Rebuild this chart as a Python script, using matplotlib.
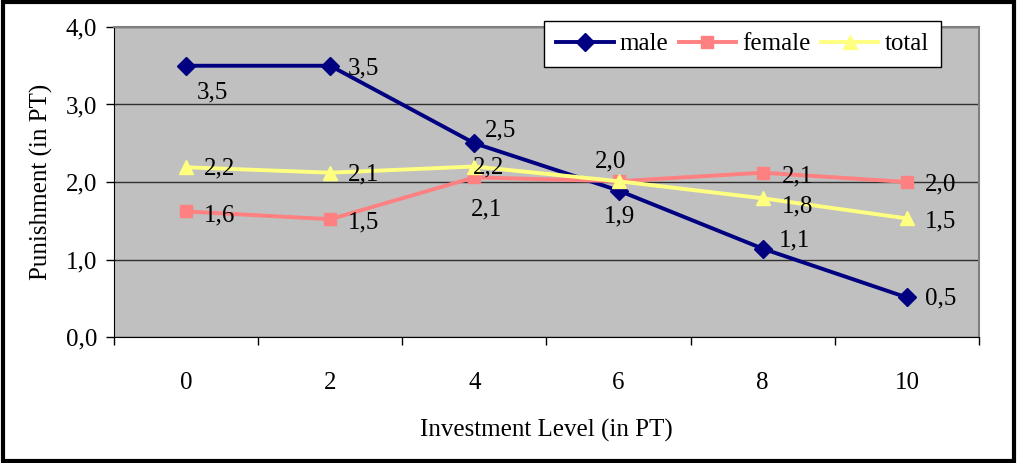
import matplotlib
matplotlib.use("Agg")
import matplotlib.pyplot as plt
from matplotlib.lines import Line2D

# investment levels and mean punishment per group
levels = ['0', '2', '4', '6', '8', '10']
male = [3.50, 3.50, 2.50, 1.89, 1.14, 0.51]
female = [1.62, 1.52, 2.06, 2.01, 2.12, 2.00]
total = [2.19, 2.12, 2.20, 2.01, 1.79, 1.53]

# label offsets (points) for each data label; None = label hidden
male_off = [(19, -19), (24, -2), (19, 9), (1, -19), (23, 6), (24, -1)]
female_off = [(24, -3), (24, -2), (9, -23), (-6, 14), (25, -3), (24, -2)]
total_off = [(24, -1), (24, -1), (10, -1), None, (25, -6), (24, -2)]

plt.rcParams['font.family'] = ['Liberation Serif', 'DejaVu Serif']
FS = 18

fig = plt.figure(figsize=(10.17, 4.63), dpi=100)
ax = fig.add_axes([0.1121, 0.2721, 0.8505, 0.6696])
ax.set_facecolor('#C0C0C0')

x = list(range(len(levels)))
series = [
    ('male', male, '#000080', 'D', 9.5, male_off),
    ('female', female, '#FF8080', 's', 9, female_off),
    ('total', total, '#FFFF80', '^', 10.5, total_off),
]
handles = []
for name, vals, col, mk, ms, offs in series:
    ax.plot(x, vals, color=col, lw=2.8, marker=mk, ms=ms, mec=col, zorder=3)
    handles.append(Line2D([], [], color=col, lw=2.8, marker=mk, ms=ms, mec=col))
    for xi, v, off in zip(x, vals, offs):
        if off is None:
            continue
        ax.annotate(f"{v:.1f}".replace('.', ','), (xi, v), xytext=off,
                    textcoords='offset points', ha='center', va='center',
                    fontsize=FS, zorder=4)

ax.set_xlim(-0.5, len(levels) - 0.5)
ax.set_ylim(0, 4)
ax.set_yticks([0, 1, 2, 3, 4])
ax.set_yticklabels([f"{t:.1f}".replace('.', ',') for t in [0, 1, 2, 3, 4]])
ax.set_xticks(x)
ax.set_xticklabels(levels)
ax.set_xticks([i - 0.5 for i in range(len(levels) + 1)], minor=True)
ax.tick_params(axis='x', which='major', length=0, pad=25, labelsize=FS)
ax.tick_params(axis='x', which='minor', length=6, width=1, direction='out')
ax.tick_params(axis='y', length=6, width=1, direction='out', pad=6, labelsize=FS)
ax.yaxis.grid(True, color='#303030', lw=1)
ax.set_axisbelow(True)

for side in ['top', 'right']:
    ax.spines[side].set_color('#808080')
    ax.spines[side].set_linewidth(1.5)
ax.spines['left'].set_color('black')
ax.spines['bottom'].set_color('black')

ax.set_ylabel('Punishment (in PT)', fontsize=FS, labelpad=9)
ax.set_xlabel('Investment Level (in PT)', fontsize=FS, labelpad=18)

leg = ax.legend(handles, ['male', 'female', 'total'], ncol=3, loc='center',
                bbox_to_anchor=(0.7266, 0.945), fontsize=FS, frameon=True,
                fancybox=False, edgecolor='black', framealpha=1,
                handlelength=2.3, handletextpad=0.25, columnspacing=0.4,
                borderpad=0.48, borderaxespad=0)
leg.get_frame().set_linewidth(1)
leg.set_zorder(5)

# outer frame around the whole figure
fig.patches.append(plt.Rectangle((0.003, 0.005), 0.994, 0.99, transform=fig.transFigure,
                                 fill=False, edgecolor='black', lw=3))

fig.savefig('out.png', dpi=100)
